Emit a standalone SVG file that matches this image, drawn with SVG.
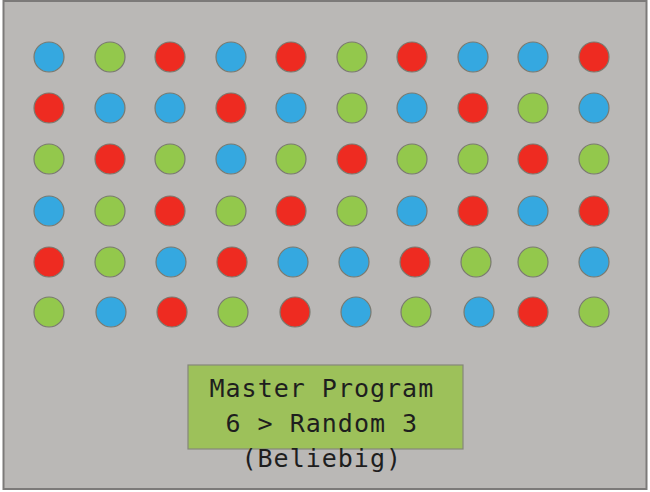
<svg xmlns="http://www.w3.org/2000/svg" width="650" height="492" viewBox="0 0 650 492">
<style>
.bg{fill:#bab8b6;stroke:#7c7a79;stroke-width:2}
.d{stroke:#7a7a70;stroke-width:1.2}
.b{fill:#35a8e0}
.g{fill:#93c84c}
.r{fill:#ee2b21}
.box{fill:#9dc15a;stroke:#85877a;stroke-width:1.2}
.t{font-family:"DejaVu Sans Mono","Liberation Mono",monospace;font-size:25px;letter-spacing:1px;fill:#1e1e1e}
</style>
<rect class="bg" x="3.5" y="1" width="643" height="488"/>
<g id="dots">
<g id="row1">
<circle class="d b" cx="49" cy="57" r="15"/><circle class="d g" cx="110" cy="57" r="15"/><circle class="d r" cx="170" cy="57" r="15"/><circle class="d b" cx="231" cy="57" r="15"/><circle class="d r" cx="291" cy="57" r="15"/><circle class="d g" cx="352" cy="57" r="15"/><circle class="d r" cx="412" cy="57" r="15"/><circle class="d b" cx="473" cy="57" r="15"/><circle class="d b" cx="533" cy="57" r="15"/><circle class="d r" cx="594" cy="57" r="15"/>
</g>
<g id="row2">
<circle class="d r" cx="49" cy="108" r="15"/><circle class="d b" cx="110" cy="108" r="15"/><circle class="d b" cx="170" cy="108" r="15"/><circle class="d r" cx="231" cy="108" r="15"/><circle class="d b" cx="291" cy="108" r="15"/><circle class="d g" cx="352" cy="108" r="15"/><circle class="d b" cx="412" cy="108" r="15"/><circle class="d r" cx="473" cy="108" r="15"/><circle class="d g" cx="533" cy="108" r="15"/><circle class="d b" cx="594" cy="108" r="15"/>
</g>
<g id="row3">
<circle class="d g" cx="49" cy="159" r="15"/><circle class="d r" cx="110" cy="159" r="15"/><circle class="d g" cx="170" cy="159" r="15"/><circle class="d b" cx="231" cy="159" r="15"/><circle class="d g" cx="291" cy="159" r="15"/><circle class="d r" cx="352" cy="159" r="15"/><circle class="d g" cx="412" cy="159" r="15"/><circle class="d g" cx="473" cy="159" r="15"/><circle class="d r" cx="533" cy="159" r="15"/><circle class="d g" cx="594" cy="159" r="15"/>
</g>
<g id="row4">
<circle class="d b" cx="49" cy="211" r="15"/><circle class="d g" cx="110" cy="211" r="15"/><circle class="d r" cx="170" cy="211" r="15"/><circle class="d g" cx="231" cy="211" r="15"/><circle class="d r" cx="291" cy="211" r="15"/><circle class="d g" cx="352" cy="211" r="15"/><circle class="d b" cx="412" cy="211" r="15"/><circle class="d r" cx="473" cy="211" r="15"/><circle class="d b" cx="533" cy="211" r="15"/><circle class="d r" cx="594" cy="211" r="15"/>
</g>
<g id="row5">
<circle class="d r" cx="49" cy="262" r="15"/><circle class="d g" cx="110" cy="262" r="15"/><circle class="d b" cx="171" cy="262" r="15"/><circle class="d r" cx="232" cy="262" r="15"/><circle class="d b" cx="293" cy="262" r="15"/><circle class="d b" cx="354" cy="262" r="15"/><circle class="d r" cx="415" cy="262" r="15"/><circle class="d g" cx="476" cy="262" r="15"/><circle class="d g" cx="533" cy="262" r="15"/><circle class="d b" cx="594" cy="262" r="15"/>
</g>
<g id="row6">
<circle class="d g" cx="49" cy="312" r="15"/><circle class="d b" cx="111" cy="312" r="15"/><circle class="d r" cx="172" cy="312" r="15"/><circle class="d g" cx="233" cy="312" r="15"/><circle class="d r" cx="295" cy="312" r="15"/><circle class="d b" cx="356" cy="312" r="15"/><circle class="d g" cx="416" cy="312" r="15"/><circle class="d b" cx="479" cy="312" r="15"/><circle class="d r" cx="533" cy="312" r="15"/><circle class="d g" cx="594" cy="312" r="15"/>
</g>
</g>
<g id="master">
<rect class="box" x="188" y="365" width="275" height="84"/>
<text class="t" x="209.5" y="396.5">Master Program</text>
<text class="t" x="225.5" y="431.5">6 &gt; Random 3</text>
<text class="t" x="241.5" y="466.5">(Beliebig)</text>
</g>
</svg>
